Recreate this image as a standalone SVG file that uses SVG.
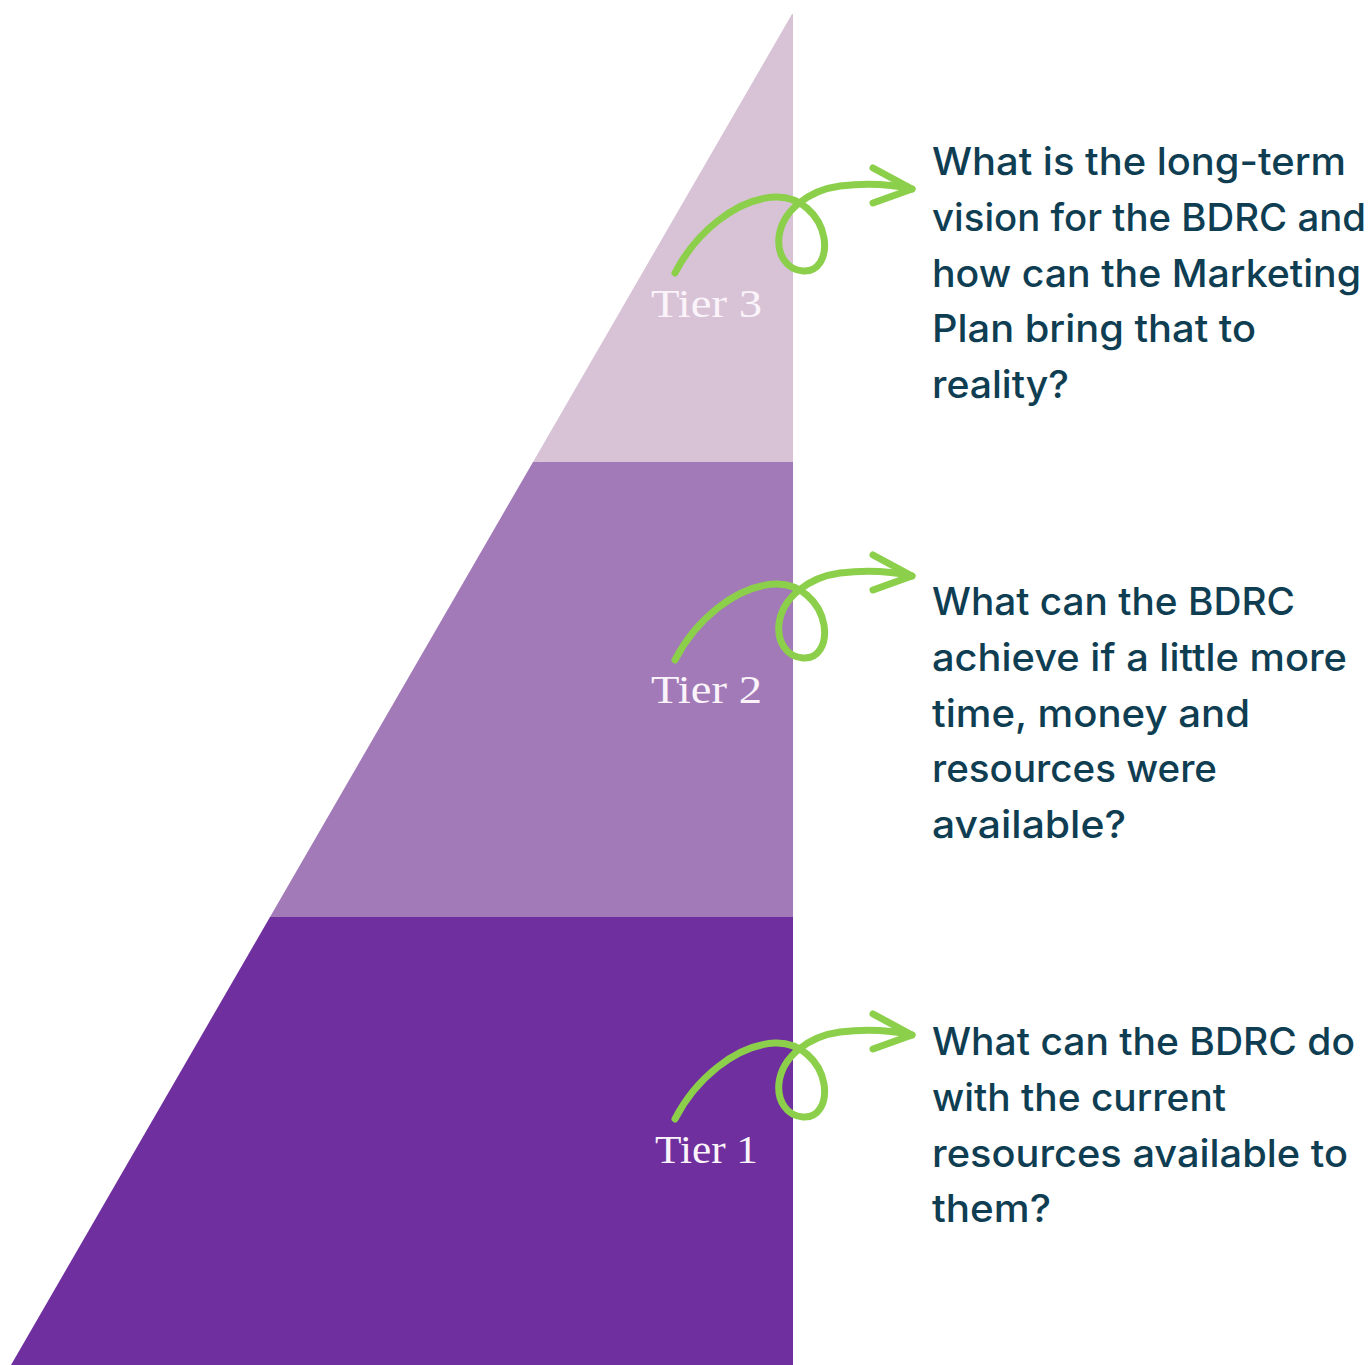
<svg xmlns="http://www.w3.org/2000/svg" xmlns:xlink="http://www.w3.org/1999/xlink" width="1370" height="1365" viewBox="0 0 1370 1365">
  <style>
    .tier-label { font-family: "Liberation Serif", "DejaVu Serif", serif; font-size: 41px; fill: #faf4fa; }
    .question { font-family: Inter, "Open Sans", "Liberation Sans", sans-serif; font-size: 38px; font-weight: 500; fill: #0f3e53; }
    .curl { fill: none; stroke: #8ccf4b; stroke-width: 7; stroke-linecap: round; stroke-linejoin: round; }
  </style>
  <defs>
    <!-- looped hand-drawn arrow, drawn at the Tier 3 position -->
    <g id="curl-arrow">
      <path class="curl" d="M675,273 C695,234 735,199 775,197 C800,196 820,215 824,238 C827,258 818,272 803,271 C787,270 777,255 779,237 C782,210 810,190 840,186 C865,183 890,184 912,189"/>
      <path class="curl" d="M873,168 L912,189 L873,203"/>
    </g>
  </defs>
  <rect width="1370" height="1365" fill="#ffffff"/>

  <!-- pyramid bands -->
  <g id="tier3">
    <polygon points="792,14 793,14 793,462 533,462" fill="#d8c3d6"/>
    <text class="tier-label" x="651" y="317" textLength="111" lengthAdjust="spacingAndGlyphs">Tier 3</text>
  </g>
  <g id="tier2">
    <polygon points="533,462 793,462 793,917 270,917" fill="#a27ab8"/>
    <text class="tier-label" x="651" y="703" textLength="111" lengthAdjust="spacingAndGlyphs">Tier 2</text>
  </g>
  <g id="tier1">
    <polygon points="270,917 793,917 793,1365 11,1365" fill="#6f2f9e"/>
    <text class="tier-label" x="655" y="1163" textLength="103" lengthAdjust="spacingAndGlyphs">Tier 1</text>
  </g>

  <!-- questions -->
  <g id="question3" class="question">
    <text x="932" y="175" textLength="414" lengthAdjust="spacingAndGlyphs">What is the long-term</text>
    <text x="932" y="230.5" textLength="434" lengthAdjust="spacingAndGlyphs">vision for the BDRC and</text>
    <text x="932" y="286.5" textLength="429" lengthAdjust="spacingAndGlyphs">how can the Marketing</text>
    <text x="932" y="342" textLength="324" lengthAdjust="spacingAndGlyphs">Plan bring that to</text>
    <text x="932" y="397.5" textLength="137" lengthAdjust="spacingAndGlyphs">reality?</text>
  </g>
  <g id="question2" class="question">
    <text x="932" y="615" textLength="363" lengthAdjust="spacingAndGlyphs">What can the BDRC</text>
    <text x="932" y="670.5" textLength="415" lengthAdjust="spacingAndGlyphs">achieve if a little more</text>
    <text x="932" y="726.5" textLength="318" lengthAdjust="spacingAndGlyphs">time, money and</text>
    <text x="932" y="782" textLength="285" lengthAdjust="spacingAndGlyphs">resources were</text>
    <text x="932" y="837.5" textLength="194" lengthAdjust="spacingAndGlyphs">available?</text>
  </g>
  <g id="question1" class="question">
    <text x="932" y="1055" textLength="423" lengthAdjust="spacingAndGlyphs">What can the BDRC do</text>
    <text x="932" y="1110.5" textLength="294" lengthAdjust="spacingAndGlyphs">with the current</text>
    <text x="932" y="1166.5" textLength="416" lengthAdjust="spacingAndGlyphs">resources available to</text>
    <text x="932" y="1222" textLength="119" lengthAdjust="spacingAndGlyphs">them?</text>
  </g>

  <!-- connectors -->
  <g id="connectors">
    <use xlink:href="#curl-arrow" href="#curl-arrow"/>
    <use xlink:href="#curl-arrow" href="#curl-arrow" transform="translate(0,387)"/>
    <use xlink:href="#curl-arrow" href="#curl-arrow" transform="translate(0,846)"/>
  </g>
</svg>
